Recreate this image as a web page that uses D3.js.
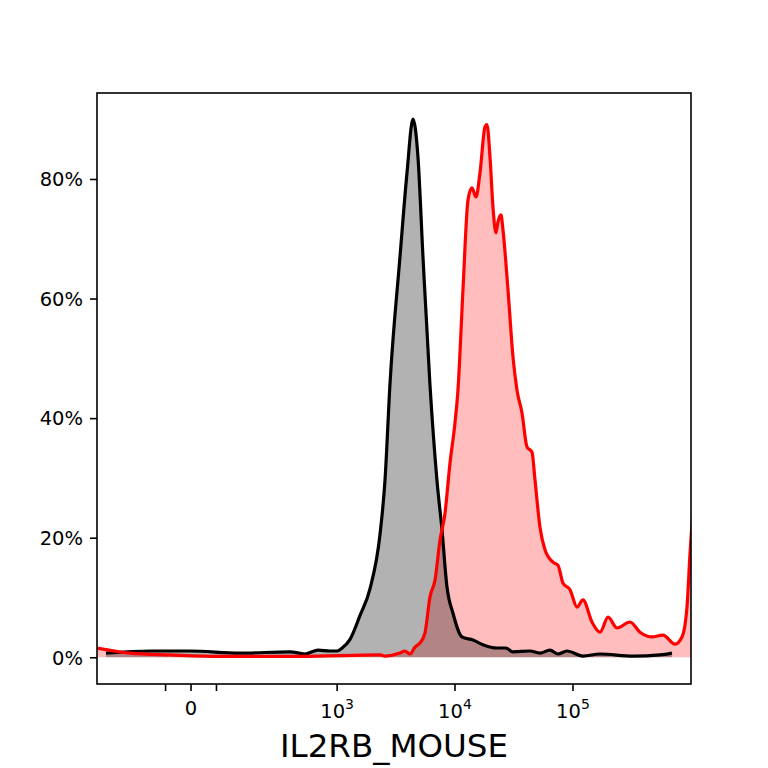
<!DOCTYPE html>
<html><head><meta charset="utf-8">
<script src="https://cdn.jsdelivr.net/npm/d3@7"></script>
<style>
body{margin:0;background:#fff}
svg{display:block}
text{font-family:"DejaVu Sans",sans-serif;fill:#000}
</style>
</head><body>
<svg id="chart" width="768" height="768"></svg>
<script>
// ---------- data ----------
const xLabel = "IL2RB_MOUSE";
const yTicks = [0, 20, 40, 60, 80];
const xMajorTicks = [0, 1e3, 1e4, 1e5];
const xMajorExp = [null, 3, 4, 5];
const xMinorTicks = [-60, 60];
const xDomain = [-354, 1e6];
const yDomain = [-4.47, 94.38];

// control (black / grey)
const controlX = [-294,-103,-2,128,392,530,687,870,1000,1103,1288,1567,1905,2313,2551,2812,3420,3920,4406,4856,5355,6141,7036,7762,8551,9609,11460,14210,17260,22690,27030,31000,43220,52480,63790,74600,88960,121500,169400,322400,546000,689800];
const controlY = [0.7,1.05,1.05,0.7,0.9,0.55,1.2,1.05,1.05,1.55,3.0,7.0,11.5,20.5,29.6,45.7,67.0,81.0,90.0,83.7,67.0,45.5,29.6,21.3,11.8,7.4,3.4,2.9,2.1,1.55,1.55,0.9,1.05,0.7,1.2,0.55,1.05,0.2,0.55,0.2,0.4,0.7];

// stained (red)
const stainedX = [-354,-173,-49,69,480,2313,2551,3420,3767,4155,4581,5052,5570,6141,6772,7467,8232,9076,10000,10600,11690,12890,13930,15070,16290,17960,18670,19800,20990,22250,23120,24530,25510,28120,31030,33520,36950,40740,44960,47640,52480,57900,67750,74600,82270,94340,108200,121500,144800,169400,198200,236100,304300,369800,466900,579300,731300,838700,924600,981700,1050000];
const stainedY = [1.55,0.7,0.4,0.15,0.15,0.4,0.2,0.7,1.05,0.55,1.7,2.4,4.1,10.1,12.9,19.6,24.1,32.5,39.2,44.7,61.5,76.5,78.5,77.0,81.0,88.7,89.1,83.7,75.3,71.0,72.8,74.0,71.5,61.5,50.2,44.7,40.9,35.2,34.3,29.7,21.8,18.0,15.9,15.4,12.4,11.3,8.4,9.6,5.9,4.2,6.7,4.9,5.9,4.2,3.4,3.7,2.2,3.4,8.4,17.5,26.0];

// ---------- layout ----------
const L = 97, R = 691, T = 93, B = 684;
const svg = d3.select("#chart");

// biexponential-like transform (asinh) composed with a linear scale
const cofactor = 116;
const tf = v => Math.asinh(v / cofactor);
const xLin = d3.scaleLinear().domain(xDomain.map(tf)).range([L, R]);
const x = v => xLin(tf(v));
const y = d3.scaleLinear().domain(yDomain).range([B, T]);

svg.append("defs").append("clipPath").attr("id", "clip")
  .append("rect").attr("x", L).attr("y", T).attr("width", R - L).attr("height", B - T);

const ctrl = controlX.map((v, i) => [v, controlY[i]]);
const stn = stainedX.map((v, i) => [v, stainedY[i]]);

const area = d3.area().x(d => x(d[0])).y0(y(0)).y1(d => y(d[1])).curve(d3.curveMonotoneX);
const line = d3.line().x(d => x(d[0])).y(d => y(d[1])).curve(d3.curveMonotoneX);

const g = svg.append("g").attr("clip-path", "url(#clip)");
g.append("path").datum(stn).attr("d", area).attr("fill", "#f00").attr("fill-opacity", 0.26);
g.append("path").datum(ctrl).attr("d", area).attr("fill", "black").attr("fill-opacity", 0.3);
g.append("path").datum(ctrl).attr("d", line).attr("fill", "none").attr("stroke", "black").attr("stroke-width", 3.2).attr("stroke-linejoin", "round");
g.append("path").datum(stn).attr("d", line).attr("fill", "none").attr("stroke", "red").attr("stroke-width", 3.2).attr("stroke-linejoin", "round");

// frame
svg.append("rect").attr("x", L).attr("y", T).attr("width", R - L).attr("height", B - T)
  .attr("fill", "none").attr("stroke", "black").attr("stroke-width", 1.6);

// y axis
const yAxis = d3.axisLeft(y).tickValues(yTicks).tickFormat(d => d + "%").tickSize(7).tickPadding(7);
const ya = svg.append("g").attr("transform", `translate(${L},0)`).call(yAxis);
ya.select(".domain").remove();
ya.selectAll(".tick line").attr("stroke-width", 1.6);
ya.selectAll(".tick text").attr("font-size", 19.5).attr("font-family", "DejaVu Sans").attr("dy", "0.35em");

// x axis ticks
const xt = svg.append("g");
xMajorTicks.concat(xMinorTicks).forEach(v => {
  xt.append("line").attr("x1", x(v)).attr("x2", x(v)).attr("y1", B).attr("y2", B + 7)
    .attr("stroke", "black").attr("stroke-width", 1.6);
});
xMajorTicks.forEach((v, i) => {
  const t = xt.append("text").attr("x", x(v)).attr("text-anchor", "middle").attr("font-size", 19.5);
  if (xMajorExp[i] === null) {
    t.attr("y", 715).text(String(v));
  } else {
    t.attr("y", 718);
    t.append("tspan").text("10");
    t.append("tspan").attr("font-size", 14).attr("dy", -9).text(String(xMajorExp[i]));
  }
});

// x label
svg.append("text").attr("x", (L + R) / 2).attr("y", 757).attr("text-anchor", "middle")
  .attr("font-size", 32.5).text(xLabel);
</script>
</body></html>
